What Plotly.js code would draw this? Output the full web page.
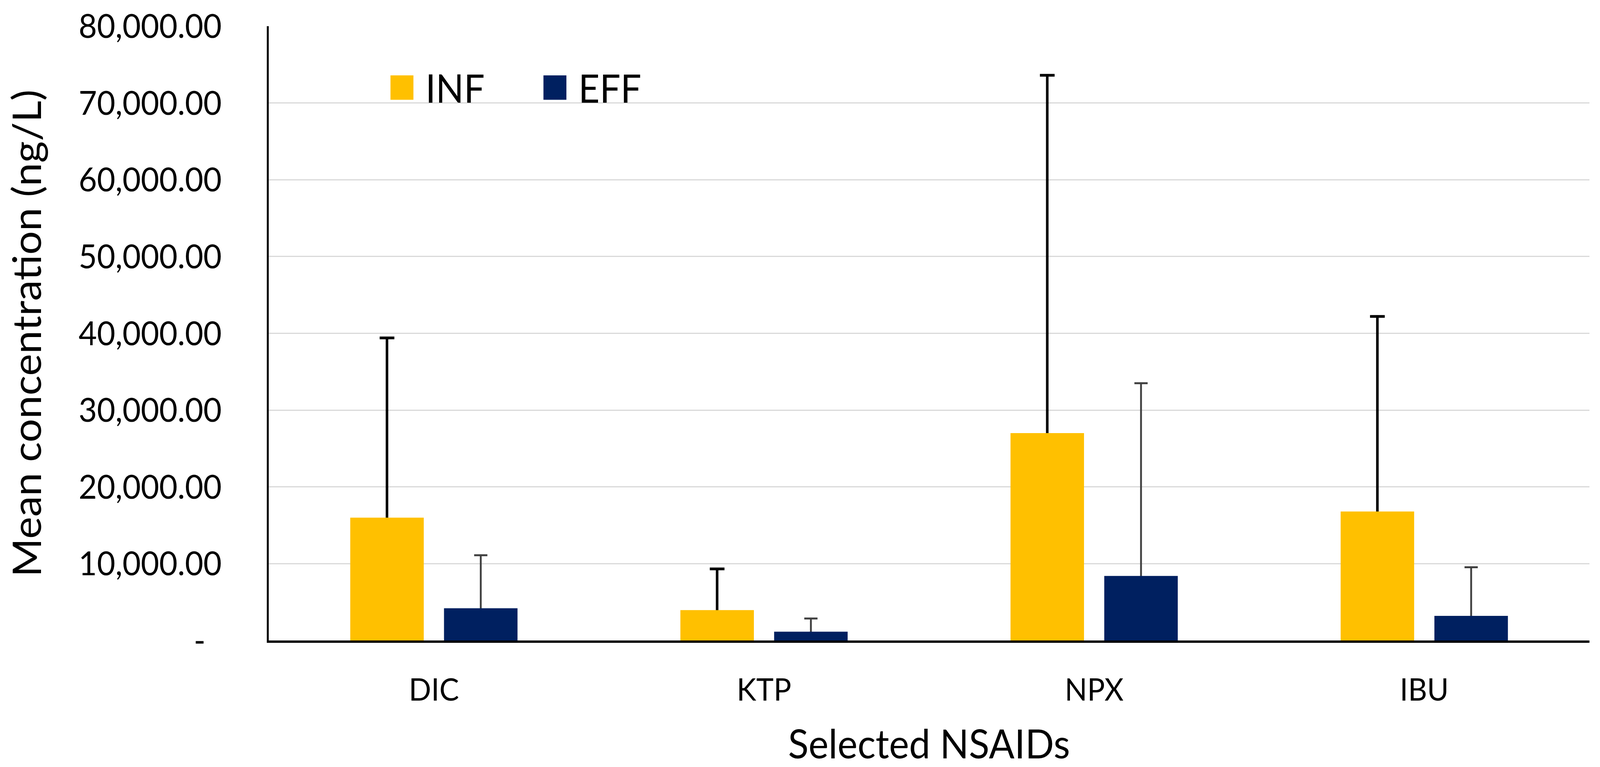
<!DOCTYPE html>
<html>
<head>
<meta charset="utf-8">
<script src="https://cdn.plot.ly/plotly-3.0.1.min.js"></script>
<style>
  html, body { margin: 0; padding: 0; background: #ffffff; overflow: hidden; }
  #chart { width: 4351px; height: 1964px; transform-origin: 0 0; }
</style>
</head>
<body>
<div id="chart"></div>
<script>
// ---- data ----
const categories = ['DIC', 'KTP', 'NPX', 'IBU'];
const seriesNames = ['INF', 'EFF'];
const infMean = [16000, 3950, 27000, 16800];
const infErrPlus = [23400, 5370, 46600, 25400];
const effMean = [4200, 1150, 8400, 3200];
const effErrPlus = [6900, 1710, 25100, 6330];
const yTickVals = [0, 10000, 20000, 30000, 40000, 50000, 60000, 70000, 80000];
const yTickText = ['-\u00a0\u00a0', '10,000.00', '20,000.00', '30,000.00', '40,000.00',
                   '50,000.00', '60,000.00', '70,000.00', '80,000.00'];

// ---- styling ----
const W = 4351, H = 1964;
const INF_COLOR = '#FFC000';
const EFF_COLOR = '#002060';
const FONT = 'Lato, "Open Sans", sans-serif';
const hideShoe = 400; // tucks the lower end of the one-sided error bar inside its bar

// fit the full-size chart into the actual window width
const sx = Math.min(1, (window.innerWidth || W) / W);
document.getElementById('chart').style.transform = 'scaleX(' + sx + ')';

function errCarrier(name, means, errs, color, thick, capHalf) {
  return {
    type: 'bar', x: categories, y: means, name: name + ' error',
    offsetgroup: name, showlegend: false, hoverinfo: 'skip',
    marker: { color: 'rgba(0,0,0,0)', line: { width: 0 } },
    error_y: { type: 'data', symmetric: false, array: errs,
      arrayminus: means.map(() => hideShoe),
      color: color, thickness: thick, width: capHalf, visible: true }
  };
}
function bars(name, means, color) {
  return { type: 'bar', x: categories, y: means, name: name, offsetgroup: name,
    marker: { color: color, line: { width: 0 } } };
}

const data = [
  errCarrier(seriesNames[0], infMean, infErrPlus, '#000000', 7, 20),
  errCarrier(seriesNames[1], effMean, effErrPlus, '#404040', 5, 18),
  bars(seriesNames[0], infMean, INF_COLOR),
  bars(seriesNames[1], effMean, EFF_COLOR)
];

const layout = {
  width: W, height: H, autosize: false,
  margin: { l: 731, r: 29, t: 67, b: 324, pad: 0 },
  paper_bgcolor: '#ffffff', plot_bgcolor: '#ffffff',
  font: { family: FONT, color: '#000000', size: 80 },
  barmode: 'group', bargap: 0.432, bargroupgap: 0.216,
  showlegend: true,
  legend: { orientation: 'h', x: 0.083, xanchor: 'left', y: 0.9, yanchor: 'middle',
    bgcolor: 'rgba(0,0,0,0)', borderwidth: 0,
    font: { family: FONT, size: 100, color: '#000000' },
    itemwidth: 118, entrywidth: 283, traceorder: 'normal' },
  xaxis: { type: 'category', showline: true, linecolor: '#000000', linewidth: 6,
    showgrid: false, zeroline: false, ticks: '',
    tickfont: { family: FONT, size: 80, color: '#000000' },
    ticklabelstandoff: 52,
    title: { text: 'Selected NSAIDs', font: { family: FONT, size: 103, color: '#000000' }, standoff: 72 },
    automargin: false },
  yaxis: { range: [0, 80000], autorange: false,
    tickmode: 'array', tickvals: yTickVals, ticktext: yTickText,
    showline: true, linecolor: '#000000', linewidth: 5,
    showgrid: true, gridcolor: '#d9d9d9', gridwidth: 3, zeroline: false, ticks: '',
    tickfont: { family: FONT, size: 86, color: '#000000' },
    ticklabelstandoff: 106,
    title: { text: 'Mean concentration (ng/L)', font: { family: FONT, size: 107, color: '#000000' }, standoff: 67 },
    automargin: false }
};

Plotly.newPlot('chart', data, layout, { staticPlot: true, displayModeBar: false }).then(function (gd) {
  // enlarge the legend swatches to the reference's square size
  gd.querySelectorAll('.legend .legendpoints path').forEach(function (p) {
    const t = p.getAttribute('transform') || '';
    p.setAttribute('transform', t + ' scale(5.2)');
  });
});
</script>
</body>
</html>
